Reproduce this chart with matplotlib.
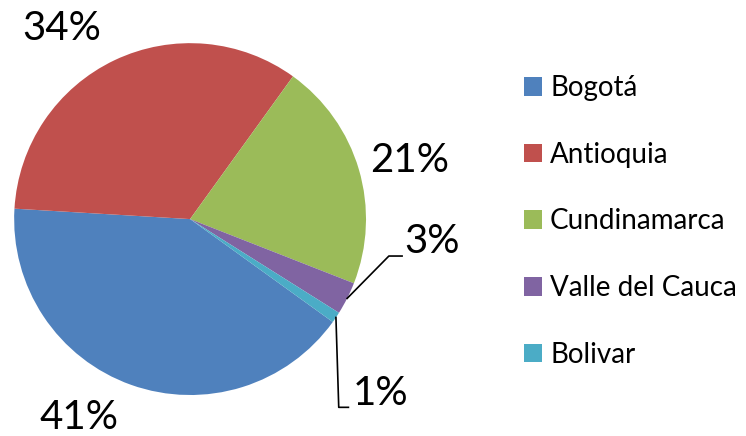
import numpy as np
import matplotlib
matplotlib.use("Agg")
import matplotlib.pyplot as plt
from matplotlib.patches import Patch

plt.rcParams["font.family"] = ["Lato", "DejaVu Sans"]

regions = ["Bogotá", "Antioquia", "Cundinamarca", "Valle del Cauca", "Bolivar"]
shares = [41, 34, 21, 3, 1]
pct_labels = ["41%", "34%", "21%", "3%", "1%"]
colors = ["#4F81BD", "#C0504D", "#9BBB59", "#8064A2", "#4BACC6"]

fig = plt.figure(figsize=(7.46, 4.36), dpi=100)
ax = fig.add_axes([0.0188, 0.094, 0.472, 0.807])
wedges, _ = ax.pie(shares, colors=colors, startangle=324.2, counterclock=False,
                   radius=1.0, wedgeprops=dict(linewidth=0))
ax.set_xlim(-1, 1); ax.set_ylim(-1, 1)
ax.set_aspect("equal")
ax.axis("off")

fs = 29
# large slices: plain labels
ax.text(-0.727, 1.085, pct_labels[1], fontsize=fs, ha="center", va="center", clip_on=False)
ax.text(1.25, 0.335, pct_labels[2], fontsize=fs, ha="center", va="center", clip_on=False)
ax.text(-0.63, -1.13, pct_labels[0], fontsize=fs, ha="center", va="center", clip_on=False)


def mid_point(w):
    a = np.deg2rad(0.5 * (w.theta1 + w.theta2))
    return np.cos(a), np.sin(a)


# small slices: leader lines
x0, y0 = mid_point(wedges[3])
ax.plot([x0, 1.13, 1.205], [y0, -0.21, -0.21], color="black", lw=1.2, clip_on=False)
ax.text(1.375, -0.13, pct_labels[3], fontsize=fs, ha="center", va="center", clip_on=False)

x0, y0 = mid_point(wedges[4])
ax.plot([x0, 0.845, 0.9], [y0, -1.07, -1.07], color="black", lw=1.2, clip_on=False)
ax.text(1.08, -0.99, pct_labels[4], fontsize=fs, ha="center", va="center", clip_on=False)

handles = [Patch(facecolor=c, edgecolor="none") for c in colors]
fig.legend(handles, regions, loc="center left", bbox_to_anchor=(0.687, 0.492),
           frameon=False, fontsize=20, handlelength=0.65, handleheight=0.65,
           handletextpad=0.3, labelspacing=1.46, borderaxespad=0)

fig.savefig("out.png", dpi=100)
